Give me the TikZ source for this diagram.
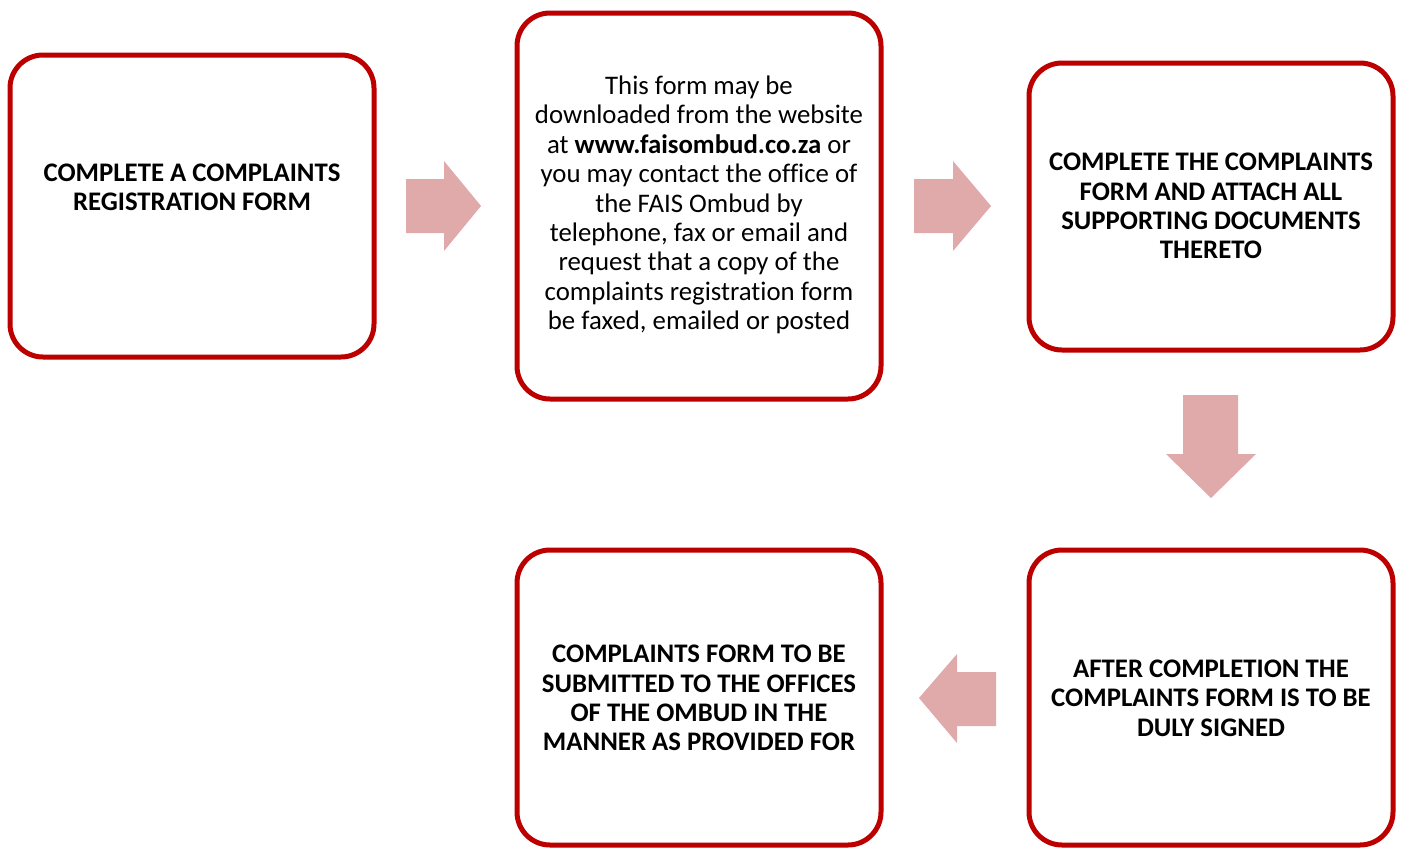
\documentclass[tikz,border=0pt]{standalone}
\usepackage{fontspec}
\setmainfont{Carlito}[Ligatures=NoCommon]
\definecolor{boxred}{HTML}{BC0000}
\definecolor{arrowpink}{HTML}{E0A9AA}
\begin{document}
\begin{tikzpicture}[x=1pt,y=-1pt,
  stepbox/.style={draw=boxred,line width=5pt,rounded corners=33pt,fill=white},
  boxtext/.style={align=center,font=\fontsize{26.8}{29.4}\selectfont,inner sep=0pt},
  boldtext/.style={boxtext,font=\fontsize{26.8}{29.4}\selectfont\bfseries},
  bigarrow/.style={fill=arrowpink,draw=none}]
\useasboundingbox (0,0) rectangle (1403,847);
\clip (0,0) rectangle (1403,847);
% boxes
\draw[stepbox] (10,55) rectangle (374,357);
\draw[stepbox] (517,13) rectangle (881,399);
\draw[stepbox] (1029,63) rectangle (1393,350);
\draw[stepbox] (1029,550) rectangle (1393,845);
\draw[stepbox] (517,550) rectangle (881,845);
% texts
\node[boldtext] (t1) at (192,187) {COMPLETE A COMPLAINTS\\REGISTRATION FORM};
\node[boxtext] (t2) at (699,205) {This form may be\\downloaded from the website\\at \textbf{www.faisombud.co.za} or\\you may contact the office of\\the FAIS Ombud by\\telephone, fax or email and\\request that a copy of the\\complaints registration form\\be faxed, emailed or posted};
\node[boldtext] (t3) at (1211,206) {COMPLETE THE COMPLAINTS\\FORM AND ATTACH ALL\\SUPPORTING DOCUMENTS\\THERETO};
\node[boldtext] (t4) at (1211,698) {AFTER COMPLETION THE\\COMPLAINTS FORM IS TO BE\\DULY SIGNED};
\node[boldtext] (t5) at (699,698) {COMPLAINTS FORM TO BE\\SUBMITTED TO THE OFFICES\\OF THE OMBUD IN THE\\MANNER AS PROVIDED FOR};
% arrows
\fill[bigarrow] (406,179) -- (444,179) -- (444,161) -- (481,206) -- (444,251) -- (444,233) -- (406,233) -- cycle;
\fill[bigarrow] (914,179) -- (953,179) -- (953,161) -- (991,206) -- (953,251) -- (953,233) -- (914,233) -- cycle;
\fill[bigarrow] (1183,395) -- (1238,395) -- (1238,454) -- (1256,454) -- (1211,498) -- (1166,454) -- (1183,454) -- cycle;
\fill[bigarrow] (996,672) -- (957,672) -- (957,654) -- (919,698) -- (957,743) -- (957,726) -- (996,726) -- cycle;
\end{tikzpicture}
\end{document}
